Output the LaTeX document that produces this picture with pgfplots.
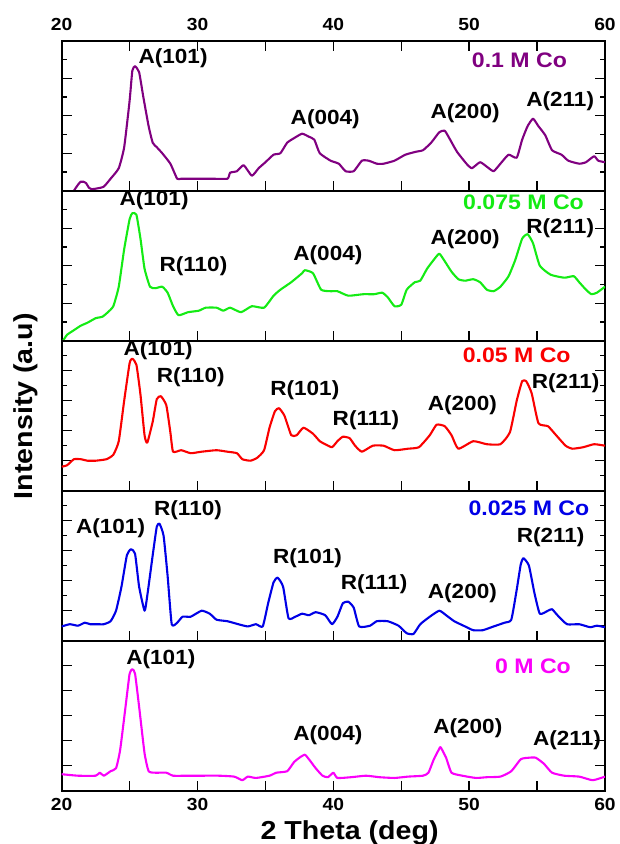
\documentclass[border=0pt]{standalone}
\usepackage{pgfplots}
\pgfplotsset{compat=1.18}
\usepackage{fontspec}
\setmainfont[FakeStretch=1.1]{Liberation Sans}
\definecolor{cpurple}{RGB}{128,0,128}
\definecolor{cgreen}{RGB}{20,235,20}
\definecolor{cred}{RGB}{250,0,0}
\definecolor{cblue}{RGB}{0,0,230}
\definecolor{cmag}{RGB}{250,0,250}
\tikzset{
  lbl/.style={font=\fontsize{20.5}{24}\selectfont\bfseries, inner sep=0pt},
  slbl/.style={font=\fontsize{21}{24}\selectfont\bfseries, inner sep=0pt},
}
\pgfplotsset{
  panel/.style={
    width=543.3pt, height=150pt, scale only axis,
    xmin=20, xmax=60, ymin=0, ymax=100,
    xtick={20,25,...,60}, xticklabels={},
    yticklabels={},
    tick align=inside,
    axis line style={line width=1.8pt},
    every tick/.style={line width=1.4pt, black},
    major tick length=10pt, minor tick length=5pt,
    ytick pos=both, xtick pos=bottom,
    /pgf/number format/assume math mode=true,
    ticklabel style={font=\fontsize{17.5}{20}\selectfont\bfseries},
    every axis plot/.append style={line width=2.1pt, line join=round, no marks, smooth, tension=0.3},
  },
}
\begin{document}
\begin{tikzpicture}
\useasboundingbox (-61.7pt,40.7pt) rectangle (557.3pt,-803.3pt);
% Panel 1: 0.1 M Co
\begin{axis}[panel, name=p1, at={(0pt,0pt)}, anchor=north west,
  xtick pos=both, xticklabel pos=top, xticklabels={20,,30,,40,,50,,60},
  xticklabel style={yshift=6pt},
  ytick={25,50,75}, minor ytick={12.5,37.5,62.5,87.5}]
\addplot[cpurple] coordinates {(20.7,-3) (20.9,0) (21.2,4) (21.4,6) (21.6,6) (21.8,5) (22.0,2) (22.2,1) (22.6,1.5) (23.1,2.7) (23.6,8) (24.2,15) (24.6,29) (25.0,60) (25.2,80) (25.4,83) (25.7,79) (26.0,63) (26.4,43) (26.7,32) (27.0,29) (27.4,25) (28.0,18) (28.5,8) (28.8,8) (30,8) (31,8) (32.2,8) (32.4,12) (32.9,13) (33.4,17) (34.0,10) (34.5,15) (35.0,19) (35.6,24) (36.1,25) (36.6,32) (37.1,35) (37.7,38) (38.2,36) (38.6,34) (39.0,25) (39.8,20) (40.4,18) (40.9,13) (41.5,13) (42.1,20) (42.6,20) (43.2,18) (43.7,18) (44.5,20) (45.3,24) (46.1,26) (46.6,27) (47.2,32) (47.8,39) (48.2,40) (48.6,34) (49.1,26) (49.8,18) (50.2,15) (50.8,19) (51.3,16) (51.8,13) (52.3,18) (52.9,24) (53.5,22) (53.9,34) (54.3,43) (54.7,48) (55.1,43) (55.6,37) (56.1,27) (56.8,24) (57.3,20) (58.1,18) (58.6,19) (59.2,23) (59.5,20) (60,19)};
\node[lbl] at (axis cs:28.2,88.5) {A(101)};
\node[lbl] at (axis cs:39.4,48) {A(004)};
\node[lbl] at (axis cs:49.7,52) {A(200)};
\node[lbl] at (axis cs:56.7,60) {A(211)};
\node[slbl, text=cpurple] at (axis cs:53.7,87) {0.1 M Co};
\end{axis}
% Panel 2: 0.075 M Co
\begin{axis}[panel, name=p2, at={(p1.south west)}, anchor=north west,
  ytick={25,50,75}, minor ytick={12.5,37.5,62.5,87.5}]
\addplot[cgreen] coordinates {(20.0,-1) (20.1,0) (20.4,4) (20.9,7) (21.4,10) (21.9,12) (22.5,15) (23.0,16) (23.4,19) (23.8,23) (24.2,36) (24.6,61) (25.0,81) (25.2,85) (25.5,84) (25.8,68) (26.1,48) (26.5,36) (26.9,35) (27.4,36) (27.8,32) (28.2,23) (28.6,17) (29.3,19) (30.1,20) (30.6,22) (31.4,22) (31.9,20) (32.4,22) (33.2,19) (34.0,23) (34.9,22) (35.6,30) (36.1,34) (36.9,39) (37.7,45) (37.9,47) (38.5,45) (39.1,34) (39.8,33) (40.3,33) (41.1,30) (42.2,31) (43.0,31) (43.6,32) (44.0,29) (44.5,23) (45.0,24) (45.4,34) (46.0,39) (46.4,40) (46.9,48) (47.4,54) (47.8,58) (48.2,53) (48.7,46) (49.2,41) (49.7,40) (50.3,41) (50.8,39) (51.3,34) (51.8,33) (52.3,36) (52.9,43) (53.4,54) (53.9,68) (54.3,71) (54.7,65) (55.2,50) (56.0,44) (57.0,42) (57.7,43) (58.1,39) (58.6,34) (59.0,31) (59.4,32) (60.0,36)};
\node[lbl] at (axis cs:26.8,94) {A(101)};
\node[lbl] at (axis cs:29.7,50) {R(110)};
\node[lbl] at (axis cs:39.6,57) {A(004)};
\node[lbl] at (axis cs:49.7,68) {A(200)};
\node[lbl] at (axis cs:56.7,75) {R(211)};
\node[slbl, text=cgreen] at (axis cs:54.0,92) {0.075 M Co};
\end{axis}
% Panel 3: 0.05 M Co
\begin{axis}[panel, name=p3, at={(p2.south west)}, anchor=north west,
  ytick={20,40,60,80}, minor ytick={10,30,50,70,90},
  ylabel={Intensity (a.u)},
  ylabel style={at={(axis description cs:-0.066,0.564)}, anchor=center, font=\fontsize{26}{30}\selectfont\bfseries}]
\addplot[cred] coordinates {(20.0,16) (20.4,17) (20.9,21) (21.4,21) (21.9,20) (22.5,20) (23.3,21) (23.8,24) (24.2,33) (24.6,60) (25.0,85) (25.2,88) (25.5,84) (25.8,64) (26.1,37) (26.3,32) (26.7,46) (27.0,61) (27.3,63) (27.7,57) (28.0,39) (28.2,26) (28.8,27) (29.5,25) (30.3,26) (31.4,27) (32.2,26) (32.9,25) (33.3,21) (33.9,20) (34.4,22) (34.9,27) (35.3,42) (35.7,53) (36.0,55) (36.4,50) (36.9,37) (37.3,37) (37.8,42) (38.5,38) (39.0,33) (39.4,31) (39.9,29) (40.3,33) (40.7,36) (41.2,35) (41.6,30) (42.1,26) (42.9,30) (43.7,30) (44.5,27) (45.5,28) (46.3,29) (47.1,37) (47.6,44) (48.2,43) (48.7,37) (49.2,28) (50.3,33) (51.3,31) (52.3,31) (53.0,39) (53.5,60) (53.9,73) (54.2,73) (54.6,65) (55.1,45) (55.8,43) (56.4,37) (57.1,30) (57.6,28) (58.4,29) (59.2,31) (60.0,30)};
\node[lbl] at (axis cs:27.1,94) {A(101)};
\node[lbl] at (axis cs:29.5,76) {R(110)};
\node[lbl] at (axis cs:37.9,67) {R(101)};
\node[lbl] at (axis cs:42.4,47) {R(111)};
\node[lbl] at (axis cs:49.5,57) {A(200)};
\node[lbl] at (axis cs:57.1,72) {R(211)};
\node[slbl, text=cred] at (axis cs:53.5,90) {0.05 M Co};
\end{axis}
% Panel 4: 0.025 M Co
\begin{axis}[panel, name=p4, at={(p3.south west)}, anchor=north west,
  ytick={20,40,60,80}, minor ytick={10,30,50,70,90}]
\addplot[cblue] coordinates {(20,9.5) (20.6,11) (21.2,10) (21.7,12) (22.1,11) (22.6,11) (23.1,11) (23.6,13) (24.0,20) (24.4,36) (24.8,57) (25.1,61) (25.4,58) (25.7,36) (26.1,20) (26.3,30) (26.7,57) (27.0,76) (27.2,78) (27.5,70) (27.8,43) (28.1,11) (28.5,12) (28.9,16) (29.5,16) (30.3,20) (30.9,18) (31.4,14) (32.2,13) (33.0,11) (33.7,9.5) (34.3,11) (34.8,9.5) (35.2,25) (35.6,39) (35.9,42) (36.3,36) (36.7,15) (37.2,16) (37.7,18) (38.2,17) (38.7,19) (39.4,17) (39.9,11) (40.3,16) (40.7,25) (41.1,26) (41.5,22) (41.9,9.5) (42.7,10) (43.2,13) (44.0,13) (44.8,10) (45.4,5) (45.9,4.5) (46.4,11) (47.1,16) (47.8,20) (48.3,17) (48.9,13) (49.7,9.5) (50.3,7) (51.0,7) (51.8,9.5) (52.6,12) (53.1,14) (53.5,34) (53.8,51) (54.0,55) (54.4,50) (54.8,32) (55.2,18) (55.8,20) (56.1,21) (56.5,17) (57.2,11) (58.1,11) (58.9,9) (59.4,10) (60,9)};
\node[lbl] at (axis cs:23.6,75) {A(101)};
\node[lbl] at (axis cs:29.3,87) {R(110)};
\node[lbl] at (axis cs:38.1,55) {R(101)};
\node[lbl] at (axis cs:43.0,38) {R(111)};
\node[lbl] at (axis cs:49.5,32) {A(200)};
\node[lbl] at (axis cs:56.0,69) {R(211)};
\node[slbl, text=cblue] at (axis cs:54.4,88) {0.025 M Co};
\end{axis}
% Panel 5: 0 M Co
\begin{axis}[panel, name=p5, at={(p4.south west)}, anchor=north west,
  xticklabels={20,,30,,40,,50,,60},
  xticklabel style={yshift=-4pt},
  ytick={16.667,33.333,50,66.667,83.333},
  xlabel={2 Theta (deg)},
  xlabel style={at={(axis description cs:0.53,0)}, anchor=center, yshift=-42pt, font=\fontsize{26}{30}\selectfont\bfseries}]
\addplot[cmag] coordinates {(20,11) (21.2,10) (22.5,10) (22.8,12) (23.1,10) (23.6,13) (24.0,15) (24.3,27) (24.7,56) (25.0,78) (25.2,81) (25.4,78) (25.7,56) (26.1,25) (26.4,13) (26.9,12) (27.7,12) (28.2,10) (29.3,10) (30.3,10) (31.6,10) (32.7,9.4) (33.3,7) (33.7,9.4) (34.3,8.5) (35.3,10) (35.8,12) (36.6,13) (37.1,19) (37.5,22) (37.9,24) (38.2,21) (38.7,15) (39.2,10) (39.6,9) (40.0,12) (40.3,8.5) (41.3,9) (42.4,10) (43.4,9) (44.5,8.5) (45.5,9.4) (46.6,10) (47.0,12) (47.4,21) (47.8,28) (47.9,29) (48.3,22) (48.7,12) (49.5,10) (50.5,8.5) (51.3,9) (52.3,9.4) (53.1,13) (53.8,21) (54.4,22) (54.9,22) (55.5,18) (56.1,12) (57.0,10) (58.1,9.4) (59.1,7) (60,9.4)};
\node[lbl] at (axis cs:27.3,88) {A(101)};
\node[lbl] at (axis cs:39.6,37) {A(004)};
\node[lbl] at (axis cs:49.9,42) {A(200)};
\node[lbl] at (axis cs:57.2,34) {A(211)};
\node[slbl, text=cmag] at (axis cs:54.7,83) {0 M Co};
\end{axis}
\end{tikzpicture}
\end{document}
